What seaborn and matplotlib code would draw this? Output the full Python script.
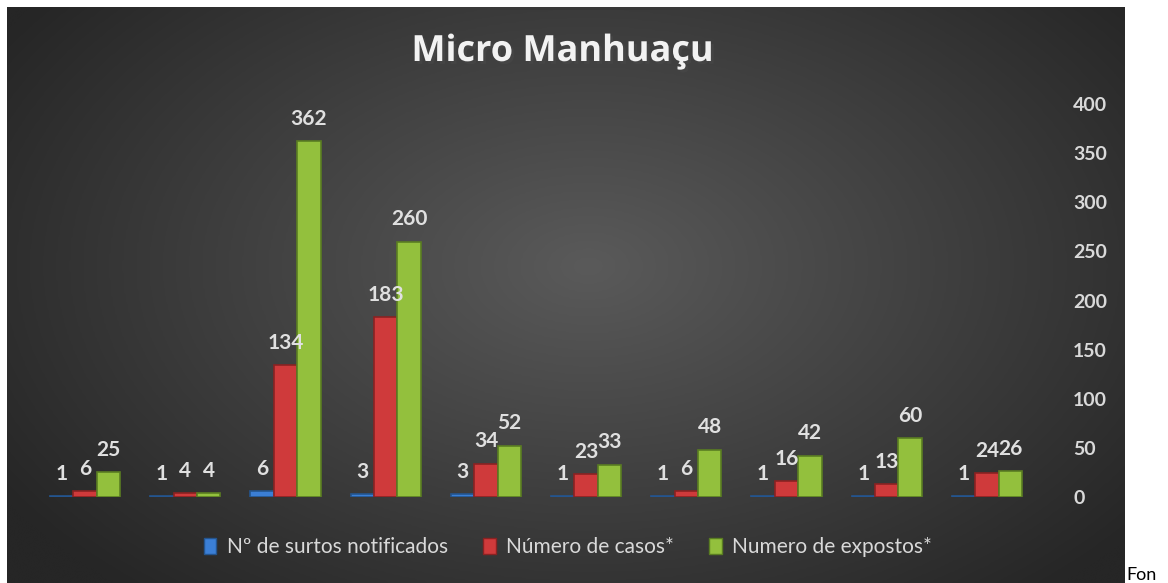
import numpy as np
import pandas as pd
import seaborn as sns
import matplotlib.pyplot as plt
from matplotlib.colors import LinearSegmentedColormap
from matplotlib.patches import Patch
import matplotlib.patheffects as pe

# dados do gráfico
grupos = ['1', '2', '3', '4', '5', '6', '7', '8', '9', '10']
surtos = [1, 1, 6, 3, 3, 1, 1, 1, 1, 1]
casos = [6, 4, 134, 183, 34, 23, 6, 16, 13, 24]
expostos = [25, 4, 362, 260, 52, 33, 48, 42, 60, 26]
series = ['Nº de surtos notificados', 'Número de casos*', 'Numero de expostos*']
cores = ['#3b7fd6', '#cf3a3b', '#93c03d']
bordas = ['#24558f', '#8a2222', '#5a7d22']

df = pd.DataFrame({
    'grupo': grupos * 3,
    'valor': surtos + casos + expostos,
    'serie': [series[0]] * 10 + [series[1]] * 10 + [series[2]] * 10,
})

sns.set_theme(style='white')
plt.rcParams['font.family'] = ['Lato', 'DejaVu Sans']

W, H = 1168, 583
fig = plt.figure(figsize=(W / 100, H / 100), dpi=100, facecolor='white')

# fundo escuro com gradiente radial
bg = fig.add_axes([7 / W, 0, (1125 - 7) / W, (H - 7) / H])
yy, xx = np.mgrid[0:1:300j, 0:1:600j]
r = np.sqrt(((xx - 0.52) / 0.62) ** 2 + ((yy - 0.45) / 0.75) ** 2)
cmap_bg = LinearSegmentedColormap.from_list('bg', ['#5a5a5a', '#262626'])
bg.imshow(np.clip(r, 0, 1), cmap=cmap_bg, aspect='auto', vmin=0, vmax=1,
          extent=[0, 1, 0, 1], interpolation='bicubic')
bg.set_axis_off()

ax = fig.add_axes([35 / W, (H - 497) / H, (1037 - 35) / W, (497 - 104) / H])
ax.patch.set_alpha(0)
sns.barplot(data=df, x='grupo', y='valor', hue='serie', palette=cores,
            width=0.7, saturation=1, ax=ax, legend=False)

for cont, borda in zip(ax.containers, bordas):
    for p in cont:
        p.set_edgecolor(borda)
        p.set_linewidth(1.2)
    ax.bar_label(cont, padding=9, color='#e0e0e0', fontsize=15,
                 fontweight='bold')

ax.set_ylim(0, 400)
ax.set_xlim(-0.5, 9.5)
ax.set_yticks(range(0, 401, 50))
ax.yaxis.tick_right()
ax.tick_params(axis='y', colors='#d9d9d9', labelsize=14, pad=26, length=0)
for t in ax.get_yticklabels():
    t.set_fontweight('bold')
    t.set_horizontalalignment('left')
ax.set_xticks([])
ax.set_xlabel('')
ax.set_ylabel('')
for s in ax.spines.values():
    s.set_visible(False)

fig.text(563 / W, 1 - 52 / H, 'Micro Manhuaçu', ha='center', va='center',
         fontsize=26, fontweight='bold', color='#f2f2f2', family='Open Sans',
         path_effects=[pe.withSimplePatchShadow(offset=(2, -2), alpha=0.6)])

handles = [Patch(facecolor=c, edgecolor=b) for c, b in zip(cores, bordas)]
leg = fig.legend(handles, series, loc='center', bbox_to_anchor=(568 / W, 1 - 547 / H),
                 ncol=3, frameon=False, fontsize=15, handlelength=0.6,
                 handleheight=0.8, handletextpad=0.5, columnspacing=1.7)
for t in leg.get_texts():
    t.set_color('#d9d9d9')

fig.text(1126 / W, 0, 'Fon', ha='left', va='bottom', fontsize=13,
         color='black')

fig.savefig('out.png', dpi=100, facecolor='white')
